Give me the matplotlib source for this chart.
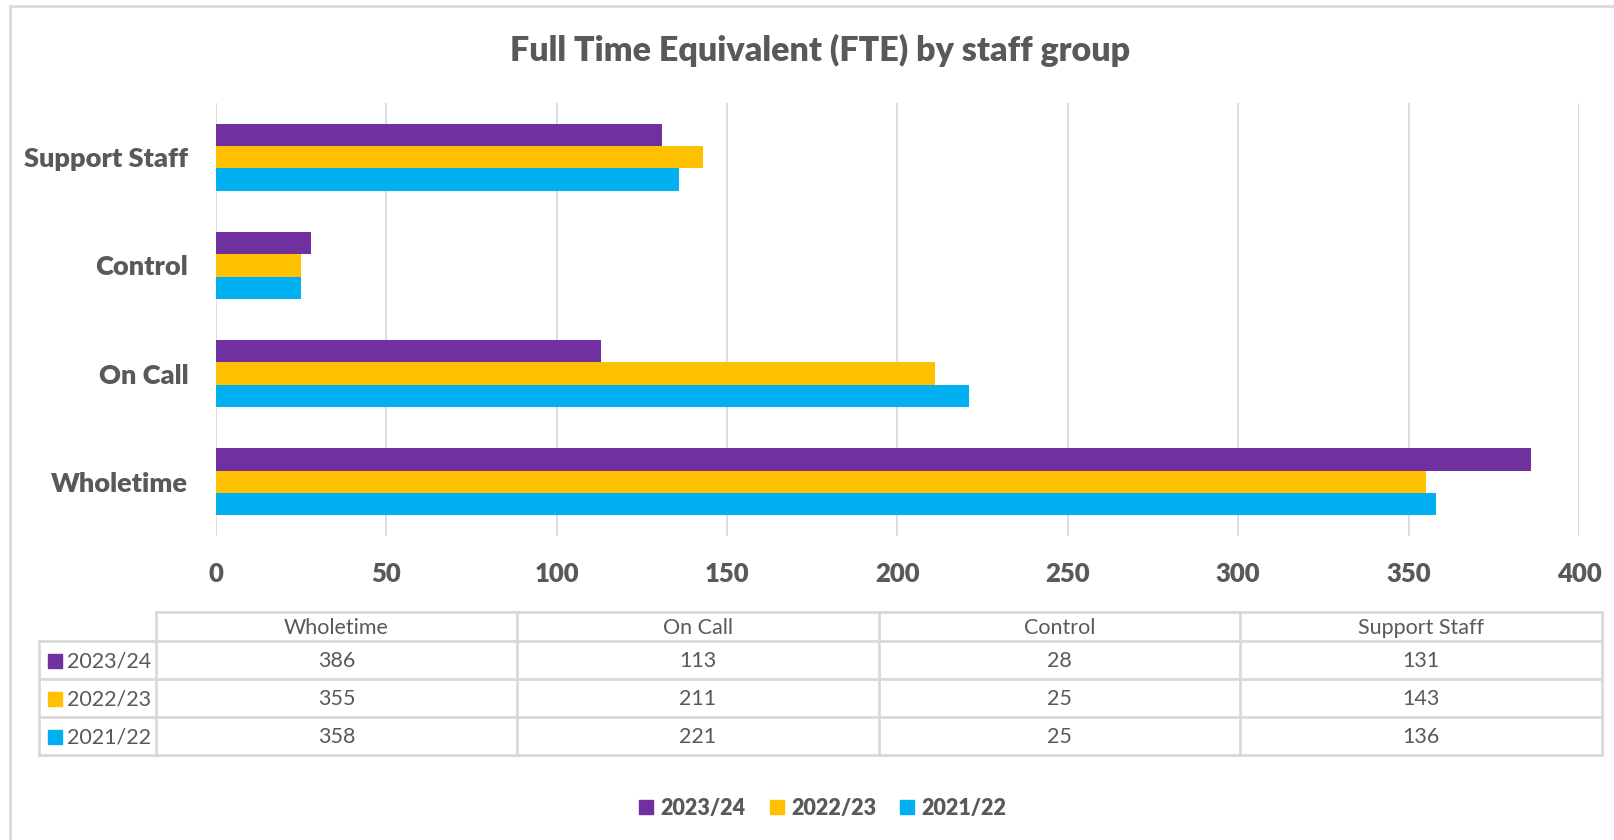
import numpy as np
import matplotlib.pyplot as plt
from matplotlib.patches import Patch, Rectangle

# data
groups = ['Wholetime', 'On Call', 'Control', 'Support Staff']
years = ['2023/24', '2022/23', '2021/22']
fte_2324 = [386, 113, 28, 131]
fte_2223 = [355, 211, 25, 143]
fte_2122 = [358, 221, 25, 136]
colours = ['#7030A0', '#FFC000', '#00B0F0']
xticks = [0, 50, 100, 150, 200, 250, 300, 350, 400]

grey = '#595959'
gridc = '#D9D9D9'
W, H = 1615, 840
plt.rcParams['font.family'] = ['Lato', 'DejaVu Sans']

fig = plt.figure(figsize=(W / 100, H / 100), dpi=100)

def px_axes(x0, y0, x1, y1):
    # pixel box (top-left origin) -> figure axes
    return fig.add_axes([x0 / W, 1 - y1 / H, (x1 - x0) / W, (y1 - y0) / H])

# chart frame
fig.patches.append(Rectangle((10 / W, -0.05), 1.2, 1 - 6 / H + 0.05,
                             transform=fig.transFigure, fill=False,
                             edgecolor=gridc, lw=2))

fig.text(0.508, 1 - 50 / H, 'Full Time Equivalent (FTE) by staff group',
         ha='center', va='center', fontsize=24.5, fontweight='heavy', color=grey)

# bar chart
ax = px_axes(216, 103, 1579, 536)
y = np.arange(len(groups))
h = 0.206
series = [fte_2324, fte_2223, fte_2122]
for i, (vals, c) in enumerate(zip(series, colours)):
    ax.barh(y + (1 - i) * h, vals, height=h, color=c, label=years[i], zorder=3)

ax.set_xlim(0, 400)
ax.set_ylim(-0.5, 3.5)
ax.set_xticks(xticks)
ax.set_yticks(y)
ax.set_yticklabels(groups)
ax.grid(axis='x', color=gridc, lw=1.3, zorder=0)
for s in ax.spines.values():
    s.set_visible(False)
ax.tick_params(axis='y', length=0, labelsize=19.5, labelcolor=grey, pad=20)
ax.tick_params(axis='x', length=0, labelsize=18.5, labelcolor=grey, pad=19)
for lab in ax.get_xticklabels() + ax.get_yticklabels():
    lab.set_fontweight('heavy')

# data table under the chart
tx = [39, 156, 517, 879, 1240, 1602]
ty = [612, 641, 679, 717, 755]
tab = px_axes(0, 0, W, H)
tab.set_xlim(0, W)
tab.set_ylim(H, 0)
tab.axis('off')
lk = dict(color=gridc, lw=2)
# header row lines (no box over the row-header column)
tab.plot([tx[1], tx[-1]], [ty[0], ty[0]], **lk)
for xx in tx[1:]:
    tab.plot([xx, xx], [ty[0], ty[-1]], **lk)
for yy in ty[1:]:
    tab.plot([tx[0], tx[-1]], [yy, yy], **lk)
tab.plot([tx[0], tx[0]], [ty[1], ty[-1]], **lk)

for j, g in enumerate(groups):
    tab.text((tx[j + 1] + tx[j + 2]) / 2, (ty[0] + ty[1]) / 2 + 1, g,
             ha='center', va='center', fontsize=15.5, color=grey)
for i, (vals, c) in enumerate(zip(series, colours)):
    yc = (ty[i + 1] + ty[i + 2]) / 2 + 1
    tab.add_patch(Rectangle((48, yc - 7), 14, 14, color=c))
    tab.text(67, yc, years[i], ha='left', va='center', fontsize=15.5, color=grey)
    for j, v in enumerate(vals):
        tab.text((tx[j + 1] + tx[j + 2]) / 2, yc, str(v),
                 ha='center', va='center', fontsize=15.5, color=grey)

# legend
handles = [Patch(color=c, label=yr) for c, yr in zip(colours, years)]
leg = fig.legend(handles=handles, loc='center', ncol=3,
                 bbox_to_anchor=(0.5095, 1 - 808 / H), frameon=False,
                 handlelength=0.65, handleheight=0.65, handletextpad=0.35,
                 columnspacing=1.1, prop={'size': 15.5, 'weight': 'heavy'})
for t in leg.get_texts():
    t.set_color(grey)

fig.savefig('out.png', dpi=100)
